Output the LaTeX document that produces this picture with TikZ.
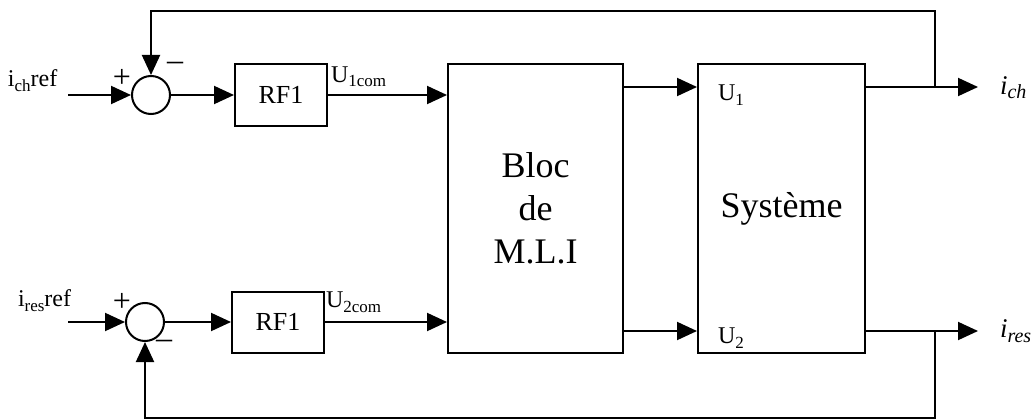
\documentclass[tikz,border=0pt]{standalone}
\usepackage{fontspec}
\setmainfont{Liberation Serif}
\usetikzlibrary{arrows.meta}
\newcommand\sbs[1]{\raisebox{-5pt}{\fontsize{17}{17}\selectfont #1}}
\newcommand\osbs[1]{\raisebox{-5pt}{\fontsize{20}{20}\selectfont #1}}
\begin{document}
\begin{tikzpicture}[x=1pt,y=-1pt,line width=2pt,
  conn/.style={-{Triangle[length=20pt,width=18pt]}},
  sum/.style={circle,draw,minimum size=38pt,inner sep=0pt},
  rf/.style={draw,minimum width=92pt,minimum height=61pt,inner sep=0pt,font=\fontsize{26}{30}\selectfont},
  big/.style={draw,minimum height=289pt,inner sep=0pt,align=center,font=\fontsize{36}{43}\selectfont},
  lbl/.style={inner sep=0pt,font=\fontsize{24}{28}\selectfont},
  olbl/.style={inner sep=0pt,font=\fontsize{27}{30}\selectfont},
  sgn/.style={inner sep=0pt,font=\fontsize{32}{32}\selectfont}]
\useasboundingbox (0,0) rectangle (1036,420);
% blocks
\node[sum] (c1) at (151,95) {};
\node[sum] (c2) at (145,322) {};
\node[rf] (rf1) at (281,95) {RF1};
\node[rf] (rf2) at (278,322) {RF1};
\node[big,minimum width=175pt] (mli) at (535.5,208.5) {Bloc\\de\\M.L.I};
\node[big,minimum width=167pt] (sys) at (781.5,208.5) {Syst\`eme};
% levels
\coordinate (r1) at (0,87);
\coordinate (r2) at (0,331);
\coordinate (in1) at (68,95);
\coordinate (in2) at (68,322);
\coordinate (o1) at (978,87);
\coordinate (o2) at (978,331);
\coordinate (f1) at (935,87);
\coordinate (f2) at (935,331);
\coordinate (t1) at (935,11);
\coordinate (b2) at (935,418);
% inputs
\draw[conn] (in1) -- (c1.west);
\draw[conn] (in2) -- (c2.west);
\draw[conn] (c1.east) -- (rf1.west);
\draw[conn] (c2.east) -- (rf2.west);
\draw[conn] (rf1.east) -- (rf1.east -| mli.west);
\draw[conn] (rf2.east) -- (rf2.east -| mli.west);
% MLI to system
\draw[conn] (mli.east |- r1) -- (sys.west |- r1);
\draw[conn] (mli.east |- r2) -- (sys.west |- r2);
% outputs
\draw[conn] (sys.east |- r1) -- (o1);
\draw[conn] (sys.east |- r2) -- (o2);
% feedback
\draw[conn] (f1) -- (t1) -- (t1 -| c1) -- (c1.north);
\draw[conn] (f2) -- (b2) -- (b2 -| c2) -- (c2.south);
% labels
\node[lbl,anchor=base west] (l1) at (7,87) {i\sbs{ch}ref};
\node[lbl,anchor=base west] (l2) at (17,306) {i\sbs{res}ref};
\node[sgn] (p1) at (122,78) {+};
\node[sgn] (m1) at (175,66) {\textendash};
\node[sgn] (p2) at (122,302) {+};
\node[sgn] (m2) at (164,344) {\textendash};
\node[lbl,anchor=base west] (uc1) at (330,82) {U\sbs{1com}};
\node[lbl,anchor=base west] (uc2) at (325,307) {U\sbs{2com}};
\node[lbl,anchor=base west] (u1) at (717,100) {U\sbs{1}};
\node[lbl,anchor=base west] (u2) at (717,343) {U\sbs{2}};
\node[olbl,anchor=base west] (ich) at (999,94) {\textit{i\osbs{ch}}};
\node[olbl,anchor=base west] (ires) at (999,337) {\textit{i\osbs{res}}};
\end{tikzpicture}
\end{document}
